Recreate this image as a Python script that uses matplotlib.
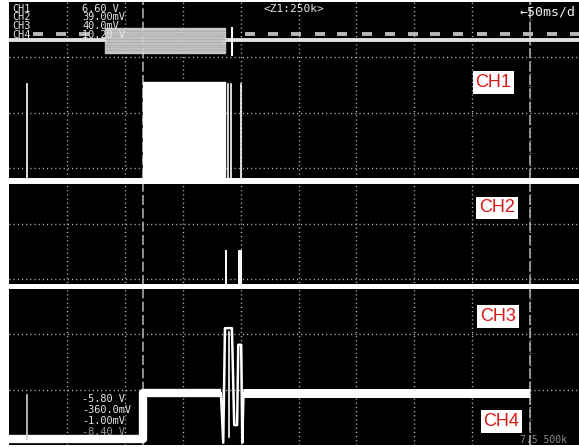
import matplotlib
matplotlib.use("Agg")
import matplotlib.pyplot as plt

# time axis in screen divisions (10 across), amplitude in divisions (8 high)
# CH1 trace
ch1_base = 4.77
ch1_burst_start = 2.31
ch1_burst_end = 3.73
ch1_burst_top = 6.56
ch1_spike_t = [0.31, 3.78, 3.83, 4.01]
ch1_spike_top = 6.52

# CH2 trace
ch2_base = 2.88
ch2_spike_t = [3.75, 3.98, 4.01]
ch2_spike_top = 3.50

# CH3 / CH4 trace (time, level)
ch3_t = [0.0, 2.31, 2.31, 3.66, 3.70, 3.73, 3.85, 3.89, 3.94, 3.96, 4.01, 4.03, 4.05, 9.0]
ch3_v = [0.11, 0.11, 0.94, 0.94, 0.04, 2.11, 2.11, 0.36, 0.36, 1.81, 1.81, 0.04, 0.94, 0.94]
ch3_inner_t = [3.80, 3.80]
ch3_inner_v = [2.04, 0.14]
ch3_spike_t = [0.31, 0.31]
ch3_spike_v = [0.90, 0.11]

# overview strip (zoom window) trace
ov_low = 7.31
ov_high = 7.43
ov_high_starts = [0.41, 0.81, 1.21, 4.08, 4.47, 4.87, 5.28, 5.66, 6.10, 6.49,
                  6.89, 7.27, 7.67, 8.08, 8.48, 8.88, 9.29, 9.69]
ov_block = (1.66, 3.73, 7.08, 7.53)
ov_cursor_t = 3.85

cursor_t = [2.31, 9.0]

scale_labels = ["CH1", "CH2", "CH3", "CH4"]
scale_values = ["6.60 V", "39.00mV", "40.0mV", "10.20 V"]
offset_values = ["-5.80 V", "-360.0mV", "-1.00mV", "-8.40 V"]
tag_labels = ["CH1", "CH2", "CH3", "CH4"]
tag_centers = [(493.5, 82.5), (497, 208), (498, 316.5), (501.5, 421.5)]

W, H = 579, 447
fig = plt.figure(figsize=(W / 100, H / 100), dpi=100, facecolor="white")
ax = fig.add_axes([9 / W, 2 / H, 1.0, 443 / H])
ax.set_facecolor("black")
ax.set_xlim(0, 10)
ax.set_ylim(0, 8)
ax.set_xticks([])
ax.set_yticks([])
for s in ax.spines.values():
    s.set_visible(False)

# graticule
for gx in range(1, 10):
    ax.axvline(gx, color="#bdbdbd", lw=1.0, ls=(0, (0.8, 2.2)), zorder=1)
for gy in range(1, 8):
    ax.axhline(gy, color="#bdbdbd", lw=1.0, ls=(0, (0.8, 2.2)), zorder=1)
for ct in cursor_t:
    ax.axvline(ct, color="#a8a8a8", lw=1.2, ls=(0, (6, 2)), zorder=2)

# overview strip
ax.plot([0, ov_block[0]], [ov_low, ov_low], color="#e0e0e0", lw=2.8, zorder=3)
ax.plot([ov_block[1], 10], [ov_low, ov_low], color="#e0e0e0", lw=2.8, zorder=3)
for t0 in ov_high_starts:
    ax.plot([t0, t0 + 0.17], [ov_high, ov_high], color="#b8b8b8", lw=2.8,
            solid_capstyle="butt", zorder=3)
bx0, bx1, by0, by1 = ov_block
ax.fill_between([bx0, bx1], by0, by1, color="#d6d6d6", alpha=0.9, zorder=6)
for k in range(1, 9):
    yy = by0 + (by1 - by0) * k / 9
    ax.plot([bx0, bx1], [yy, yy], color="#b0b0b0", lw=0.6, zorder=7)
ax.plot([ov_cursor_t, ov_cursor_t], [7.04, 7.53], color="white", lw=1.5, zorder=7)

# CH1
ax.plot([0, 10], [ch1_base, ch1_base], color="white", lw=4.3, zorder=4)
ax.fill_between([ch1_burst_start, ch1_burst_end], ch1_base, ch1_burst_top,
                color="white", zorder=4)
for t in ch1_spike_t:
    ax.plot([t, t], [ch1_base, ch1_spike_top], color="white", lw=1.2, zorder=4)

# CH2
ax.plot([0, 10], [ch2_base, ch2_base], color="white", lw=3.6, zorder=4)
for t in ch2_spike_t:
    ax.plot([t, t], [ch2_base, ch2_spike_top], color="white", lw=1.4, zorder=4)

# CH3 / CH4
ax.plot(ch3_t[:4], ch3_v[:4], color="white", lw=6.0, zorder=4,
        solid_capstyle="butt")
ax.plot(ch3_t[3:-1], ch3_v[3:-1], color="white", lw=1.8, zorder=4)
ax.plot(ch3_t[-2:], ch3_v[-2:], color="white", lw=6.5, zorder=4,
        solid_capstyle="butt")
ax.plot(ch3_inner_t, ch3_inner_v, color="white", lw=1.2, zorder=4)
ax.plot(ch3_spike_t, ch3_spike_v, color="#cfcfcf", lw=1.2, zorder=4)

mono = "DejaVu Sans Mono"
fs = 7.4
for i, (lab, val) in enumerate(zip(scale_labels, scale_values)):
    py = 8.5 + 8.8 * i
    fig.text(12 / W, 1 - py / H, lab, family=mono, fontsize=fs, color="#e6e6e6",
             va="center", ha="left", zorder=5)
    fig.text(82 / W, 1 - py / H, val, family=mono, fontsize=fs, color="#e6e6e6",
             va="center", ha="left", zorder=5)
for i, val in enumerate(offset_values):
    py = 399 + 11 * i
    fig.text(82 / W, 1 - py / H, val, family=mono, fontsize=fs,
             color="#e6e6e6" if i < 3 else "#9a9a9a", va="center", ha="left",
             zorder=6)

fig.text(263 / W, 1 - 9 / H, "<Z1:250k>", family=mono, fontsize=8.0,
         color="#e6e6e6", va="center", ha="left")
fig.text(520 / W, 1 - 12 / H, "\u219050ms/d", family=mono, fontsize=9.5,
         color="#f0f0f0", va="center", ha="left")
fig.text(520 / W, 1 - 440 / H, "7.5 500k", family=mono, fontsize=7.0,
         color="#8a8a8a", va="center", ha="left")

for lab, (cx, cy) in zip(tag_labels, tag_centers):
    fig.text(cx / W, 1 - cy / H, lab, family="Liberation Sans", fontsize=13,
             color="#d81818", ha="center", va="center",
             bbox=dict(boxstyle="square,pad=0.15", fc="white", ec="none"))

fig.savefig("out.png", dpi=100, facecolor="white")
